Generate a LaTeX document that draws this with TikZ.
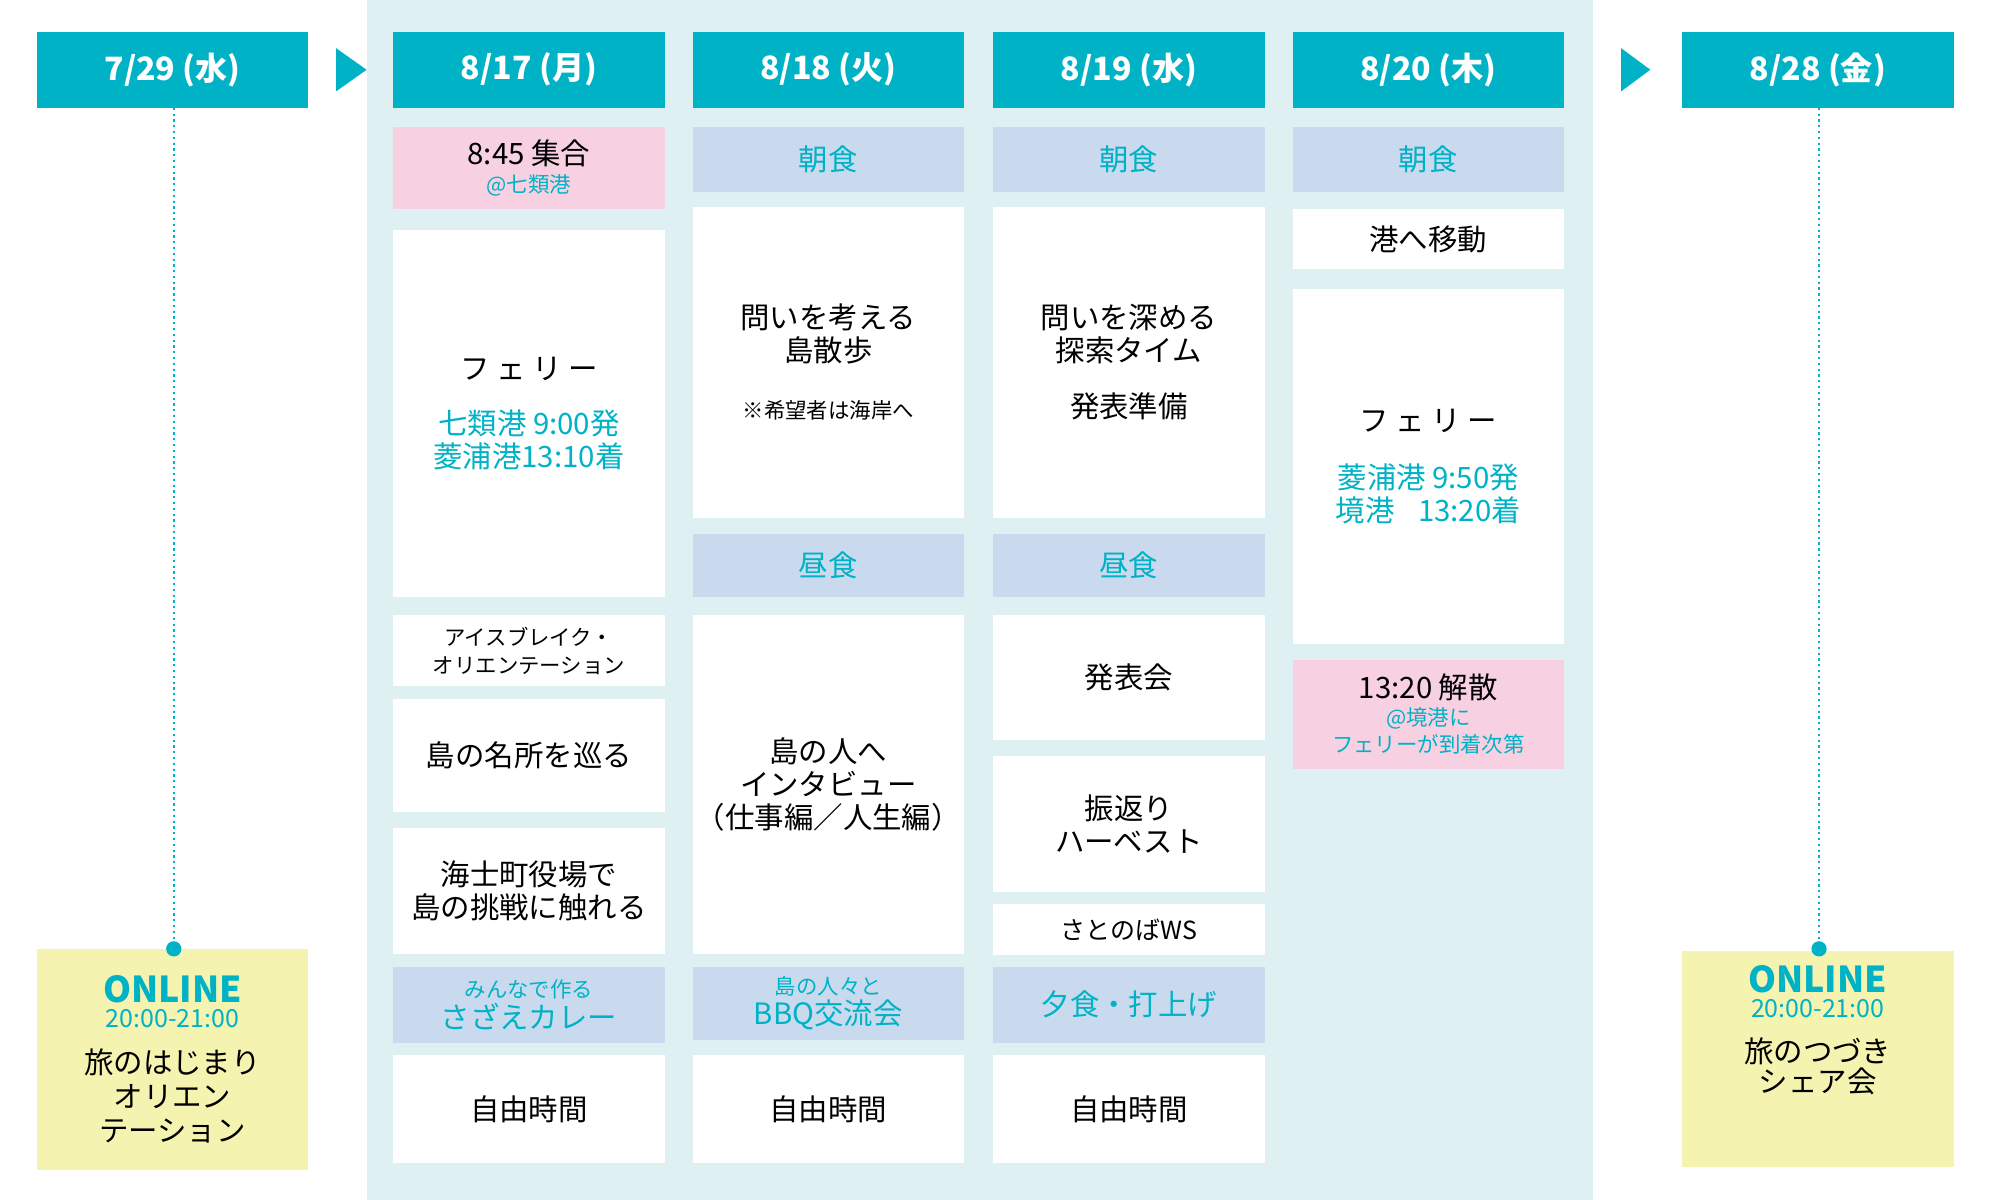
\documentclass[tikz,border=0pt]{standalone}
\usepackage{fontspec}
\setmainfont{Noto Sans CJK JP}
\definecolor{teal}{HTML}{00B2C6}
\definecolor{bgc}{HTML}{DFF0F3}
\definecolor{bluec}{HTML}{C9D9EE}
\definecolor{pinkc}{HTML}{F7D0E1}
\definecolor{yelc}{HTML}{F5F3B0}
\tikzset{
 box/.style={fill=white,align=center,font=\fontsize{33}{40}\selectfont},
 meal/.style={fill=bluec,align=center,text=teal,font=\fontsize{33}{40}\selectfont},
 pinkb/.style={fill=pinkc,align=center,font=\fontsize{33}{38}\selectfont},
 hdr/.style={fill=teal,text=white,align=center,font=\bfseries\fontsize{36}{40}\selectfont},
 yel/.style={fill=yelc,align=center,font=\fontsize{33}{38}\selectfont},
 dots/.style={teal,line width=2.5pt,dash pattern=on 2.5pt off 4pt},
}
\newcommand{\bx}[7]{\path[#6] (#1,#2) rectangle (#3,#4);
 \node[#6,fill=none,inner sep=0] (#5) at ({(#1+#3)/2},{(#2+#4)/2}) {#7};}
\newcommand{\sm}[1]{{\fontsize{24}{28}\selectfont #1}}
\newcommand{\tl}[1]{{\color{teal}#1}}
\begin{document}
\begin{tikzpicture}[x=0.05cm,y=-0.05cm]
\useasboundingbox[fill=white] (0,0) rectangle (1568,946);
\fill[bgc] (289,0) rectangle (1256,946);
% headers
\bx{29}{25}{243}{85}{h0}{hdr}{7/29 (水)}
\bx{310}{25}{524}{85}{h1}{hdr}{8/17 (月)}
\bx{546}{25}{760}{85}{h2}{hdr}{8/18 (火)}
\bx{783}{25}{997}{85}{h3}{hdr}{8/19 (水)}
\bx{1019}{25}{1233}{85}{h4}{hdr}{8/20 (木)}
\bx{1326}{25}{1540}{85}{h5}{hdr}{8/28 (金)}
\fill[teal] (265,38) -- (289,55) -- (265,72) -- cycle;
\fill[teal] (1278,38) -- (1301,55) -- (1278,72) -- cycle;
% col1
\bx{310}{100}{524}{165}{a1}{pinkb}{8:45 集合\\[-6pt]\tl{\sm{@七類港}}}
\bx{310}{181}{524}{471}{a2}{box}{フ ェ リ ー\\[22pt]\tl{七類港 9:00発}\\[-3pt]\tl{菱浦港13:10着}}
\bx{310}{485}{524}{541}{a3}{box}{\sm{アイスブレイク・}\\[-8pt]\sm{オリエンテーション}}
\bx{310}{551}{524}{640}{a4}{box}{島の名所を巡る}
\bx{310}{653}{524}{752}{a5}{box}{海士町役場で\\[-3pt]島の挑戦に触れる}
\bx{310}{762}{524}{822}{a6}{meal}{\sm{みんなで作る}\\[-6pt]さざえカレー}
\bx{310}{832}{524}{917}{a7}{box}{自由時間}
% col2
\bx{546}{100}{760}{151}{b1}{meal}{朝食}
\bx{546}{163}{760}{408}{b2}{box}{問いを考える\\[-3pt]島散歩\\[24pt]\sm{※希望者は海岸へ}}
\bx{546}{421}{760}{471}{b3}{meal}{昼食}
\bx{546}{485}{760}{752}{b4}{box}{島の人へ\\[-3pt]インタビュー\\[-3pt]（仕事編／人生編）}
\bx{546}{762}{760}{820}{b5}{meal}{\sm{島の人々と}\\[-6pt]BBQ交流会}
\bx{546}{832}{760}{917}{b6}{box}{自由時間}
% col3
\bx{783}{100}{997}{151}{c1}{meal}{朝食}
\bx{783}{163}{997}{408}{c2}{box}{問いを深める\\[-3pt]探索タイム\\[22pt]発表準備}
\bx{783}{421}{997}{471}{c3}{meal}{昼食}
\bx{783}{485}{997}{583}{c4}{box}{発表会}
\bx{783}{596}{997}{703}{c5}{box}{振返り\\[-3pt]ハーベスト}
\bx{783}{713}{997}{753}{c6}{box}{\fontsize{28}{30}\selectfont さとのばWS}
\bx{783}{762}{997}{822}{c7}{meal}{夕食・打上げ}
\bx{783}{832}{997}{917}{c8}{box}{自由時間}
% col4
\bx{1019}{100}{1233}{151}{d1}{meal}{朝食}
\bx{1019}{165}{1233}{212}{d2}{box}{港へ移動}
\bx{1019}{228}{1233}{508}{d3}{box}{フ ェ リ ー\\[24pt]\tl{菱浦港 9:50発}\\[-3pt]\tl{境港\hspace{0.8em}13:20着}}
\bx{1019}{520}{1233}{606}{d4}{pinkb}{13:20 解散\\[-8pt]\tl{\sm{@境港に}}\\[-8pt]\tl{\sm{フェリーが到着次第}}}
% online
\bx{29}{748}{243}{922}{y1}{yel}{\textcolor{teal}{\bfseries\fontsize{40}{40}\selectfont ONLINE}\\[-10pt]\tl{\fontsize{28}{30}\selectfont 20:00-21:00}\\[14pt]旅のはじまり\\[0pt]オリエン\\[0pt]テーション}
\bx{1326}{750}{1540}{920}{y2}{yel}{\textcolor{teal}{\bfseries\fontsize{40}{40}\selectfont ONLINE}\\[-10pt]\tl{\fontsize{28}{30}\selectfont 20:00-21:00}\\[12pt]旅のつづき\\[-4pt]シェア会\\[30pt]}
\coordinate (p1) at (137,748);
\coordinate (p2) at (1434,748);
\draw[dots] (137,85) -- (p1);
\draw[dots] (1434,85) -- (p2);
\fill[teal] (p1) circle (6);
\fill[teal] (p2) circle (6);
\end{tikzpicture}
\end{document}
